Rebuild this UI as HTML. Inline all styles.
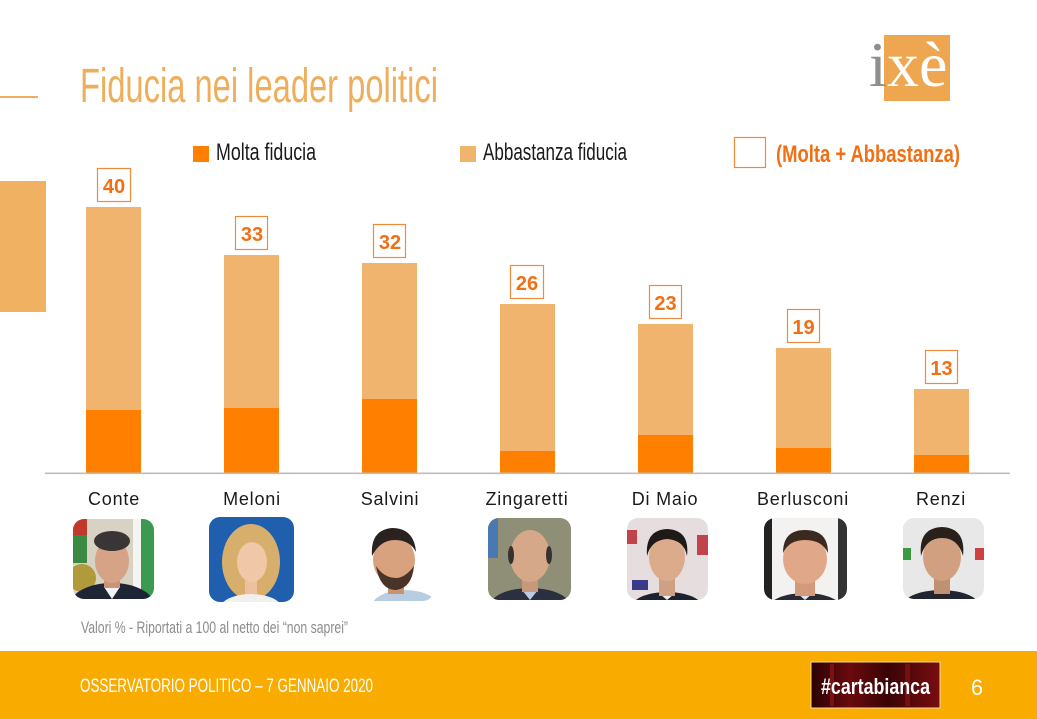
<!DOCTYPE html>
<html>
<head>
<meta charset="utf-8">
<style>
html,body{margin:0;padding:0;background:#fff;}
svg{display:block;}
</style>
</head>
<body>
<svg width="1037" height="719" viewBox="0 0 1037 719" xmlns="http://www.w3.org/2000/svg">
<defs>
  <clipPath id="c1"><rect x="73" y="519" width="81" height="80" rx="11"/></clipPath>
  <clipPath id="c2"><rect x="209" y="517" width="85" height="85" rx="11"/></clipPath>
  <clipPath id="c3"><rect x="352" y="519" width="82" height="82" rx="11"/></clipPath>
  <clipPath id="c4"><rect x="488" y="518" width="83" height="82" rx="11"/></clipPath>
  <clipPath id="c5"><rect x="627" y="518" width="81" height="82" rx="11"/></clipPath>
  <clipPath id="c6"><rect x="764" y="518" width="83" height="82" rx="11"/></clipPath>
  <clipPath id="c7"><rect x="903" y="518" width="81" height="81" rx="11"/></clipPath>
  <linearGradient id="cb" x1="0" y1="0" x2="1" y2="0">
    <stop offset="0" stop-color="#2a0204"/>
    <stop offset="0.3" stop-color="#6a0a0e"/>
    <stop offset="0.6" stop-color="#3a0406"/>
    <stop offset="1" stop-color="#7a0d10"/>
  </linearGradient>
</defs>

<!-- Title -->
<rect x="0" y="96" width="38" height="2" fill="#F0AE5E"/>
<text x="80" y="102" font-family="Liberation Sans, sans-serif" font-size="48" fill="#EFAE5B" textLength="358" lengthAdjust="spacingAndGlyphs">Fiducia nei leader politici</text>

<!-- Left block -->
<rect x="0" y="181" width="46" height="131" fill="#F0B262"/>

<!-- Logo ixè -->
<rect x="884" y="35" width="66" height="66" fill="#EFA650"/>
<text x="869" y="86" font-family="Liberation Serif, serif" font-size="64" fill="#8e8e8e">i</text>
<text x="887" y="86" font-family="Liberation Serif, serif" font-size="64" fill="#ffffff">x</text>
<text x="919" y="86" font-family="Liberation Serif, serif" font-size="64" fill="#ffffff">è</text>

<!-- Legend -->
<rect x="193" y="146" width="16" height="16" fill="#FF7F00"/>
<text x="216" y="160" font-family="Liberation Sans, sans-serif" font-size="24" fill="#1a1a1a" textLength="100" lengthAdjust="spacingAndGlyphs">Molta fiducia</text>
<rect x="460" y="146" width="16" height="16" fill="#F0B46E"/>
<text x="483" y="160" font-family="Liberation Sans, sans-serif" font-size="24" fill="#1a1a1a" textLength="144" lengthAdjust="spacingAndGlyphs">Abbastanza fiducia</text>
<rect x="734.5" y="137.5" width="31" height="30" fill="#fff" stroke="#F08A3C" stroke-width="1.2"/>
<text x="776" y="162" font-family="Liberation Sans, sans-serif" font-size="24" font-weight="bold" fill="#F26F14" textLength="184" lengthAdjust="spacingAndGlyphs">(Molta + Abbastanza)</text>

<!-- Bars -->
<g>
  <rect x="86" y="207" width="55" height="266" fill="#F0B46E"/>
  <rect x="86" y="410" width="55" height="63" fill="#FF7F00"/>
  <rect x="224" y="255" width="55" height="218" fill="#F0B46E"/>
  <rect x="224" y="408" width="55" height="65" fill="#FF7F00"/>
  <rect x="362" y="263" width="55" height="210" fill="#F0B46E"/>
  <rect x="362" y="399" width="55" height="74" fill="#FF7F00"/>
  <rect x="500" y="304" width="55" height="169" fill="#F0B46E"/>
  <rect x="500" y="451" width="55" height="22" fill="#FF7F00"/>
  <rect x="638" y="324" width="55" height="149" fill="#F0B46E"/>
  <rect x="638" y="435" width="55" height="38" fill="#FF7F00"/>
  <rect x="776" y="348" width="55" height="125" fill="#F0B46E"/>
  <rect x="776" y="448" width="55" height="25" fill="#FF7F00"/>
  <rect x="914" y="389" width="55" height="84" fill="#F0B46E"/>
  <rect x="914" y="455" width="55" height="18" fill="#FF7F00"/>
</g>
<rect x="45" y="472.5" width="965" height="1.6" fill="#bdbdbd"/>

<!-- Value boxes -->
<g fill="#fff" stroke="#F08A3C" stroke-width="1.2">
  <rect x="97.5" y="168.5" width="33" height="33"/>
  <rect x="235.5" y="216.5" width="32" height="33"/>
  <rect x="373.5" y="224.5" width="32" height="33"/>
  <rect x="510.5" y="265.5" width="33" height="33"/>
  <rect x="649.5" y="285.5" width="32" height="33"/>
  <rect x="787.5" y="309.5" width="32" height="33"/>
  <rect x="925.5" y="350.5" width="32" height="33"/>
</g>
<g font-family="Liberation Sans, sans-serif" font-size="20" font-weight="bold" fill="#F26F14" text-anchor="middle">
  <text x="114" y="193">40</text>
  <text x="252" y="241">33</text>
  <text x="390" y="249">32</text>
  <text x="527" y="290">26</text>
  <text x="665.5" y="310">23</text>
  <text x="803.5" y="334">19</text>
  <text x="941.5" y="375">13</text>
</g>

<!-- Names -->
<g font-family="Liberation Sans, sans-serif" font-size="18" fill="#1a1a1a" text-anchor="middle" letter-spacing="0.8">
  <text x="114" y="505">Conte</text>
  <text x="252" y="505">Meloni</text>
  <text x="390" y="505">Salvini</text>
  <text x="527" y="505">Zingaretti</text>
  <text x="665" y="505">Di Maio</text>
  <text x="803" y="505">Berlusconi</text>
  <text x="941" y="505">Renzi</text>
</g>

<!-- Photos -->
<!-- Conte -->
<g clip-path="url(#c1)">
  <rect x="73" y="519" width="81" height="80" fill="#d8d2c4"/>
  <rect x="73" y="519" width="14" height="16" fill="#c0392b"/>
  <rect x="73" y="535" width="14" height="28" fill="#3a8a45"/>
  <ellipse cx="82" cy="578" rx="14" ry="14" fill="#b09a3a"/>
  <rect x="133" y="519" width="8" height="80" fill="#f4f4f0"/>
  <rect x="141" y="519" width="13" height="80" fill="#3c9a50"/>
  <ellipse cx="112" cy="605" rx="42" ry="22" fill="#1e2535"/>
  <path d="M104 587 L112 599 L120 587 Z" fill="#f2f2f2"/>
  <rect x="104" y="570" width="16" height="18" fill="#c99478"/>
  <ellipse cx="112" cy="561" rx="17" ry="22" fill="#d6a387"/>
  <ellipse cx="112" cy="541" rx="18" ry="10" fill="#3a3535"/>
</g>
<!-- Meloni -->
<g clip-path="url(#c2)">
  <rect x="209" y="517" width="85" height="85" fill="#1f5fae"/>
  <ellipse cx="251" cy="562" rx="29" ry="38" fill="#d7ae6c"/>
  <ellipse cx="251" cy="610" rx="32" ry="16" fill="#f2f0ee"/>
  <rect x="245" y="578" width="12" height="16" fill="#ecc0a0"/>
  <ellipse cx="252" cy="562" rx="15" ry="20" fill="#f0c8a8"/>
  <path d="M236 552 Q250 532 268 552 Q262 540 251 538 Q240 540 236 552 Z" fill="#d7ae6c"/>
</g>
<!-- Salvini -->
<g clip-path="url(#c3)">
  <rect x="352" y="519" width="82" height="82" fill="#ffffff"/>
  <ellipse cx="405" cy="608" rx="34" ry="18" fill="#b9cde2"/>
  <rect x="388" y="578" width="16" height="16" fill="#c8946f"/>
  <ellipse cx="394" cy="560" rx="21" ry="24" fill="#d8a27e"/>
  <path d="M376 566 Q380 590 396 590 Q412 588 414 566 Q405 578 396 578 Q384 578 376 566 Z" fill="#4a3328"/>
  <path d="M372 556 Q370 530 392 528 Q414 528 416 552 Q410 540 395 540 Q380 540 372 556 Z" fill="#2a2220"/>
</g>
<!-- Zingaretti -->
<g clip-path="url(#c4)">
  <rect x="488" y="518" width="83" height="82" fill="#8e8f76"/>
  <rect x="488" y="518" width="10" height="40" fill="#4a78b0"/>
  <ellipse cx="530" cy="606" rx="40" ry="18" fill="#2b3040"/>
  <path d="M522 590 L530 600 L538 590 Z" fill="#b8cce6"/>
  <rect x="522" y="576" width="16" height="16" fill="#c8987a"/>
  <ellipse cx="530" cy="556" rx="20" ry="26" fill="#d5a88a"/>
  <ellipse cx="511" cy="555" rx="3" ry="9" fill="#3a3030"/>
  <ellipse cx="549" cy="555" rx="3" ry="9" fill="#3a3030"/>
</g>
<!-- Di Maio -->
<g clip-path="url(#c5)">
  <rect x="627" y="518" width="81" height="82" fill="#e6dede"/>
  <rect x="627" y="530" width="10" height="14" fill="#c0444a"/>
  <rect x="697" y="535" width="11" height="20" fill="#c0444a"/>
  <rect x="632" y="580" width="16" height="10" fill="#3a3a8a"/>
  <ellipse cx="667" cy="608" rx="36" ry="16" fill="#1e2230"/>
  <path d="M660 594 L667 600 L674 594 Z" fill="#f2f2f2"/>
  <rect x="659" y="576" width="16" height="20" fill="#cfa081"/>
  <ellipse cx="667" cy="557" rx="18" ry="24" fill="#dbab8b"/>
  <path d="M647 556 Q645 530 667 529 Q690 530 687 556 Q684 540 667 539 Q651 540 647 556 Z" fill="#1e1a18"/>
</g>
<!-- Berlusconi -->
<g clip-path="url(#c6)">
  <rect x="764" y="518" width="83" height="82" fill="#f4f2f0"/>
  <rect x="764" y="518" width="8" height="82" fill="#222"/>
  <rect x="838" y="518" width="9" height="82" fill="#333"/>
  <ellipse cx="805" cy="610" rx="38" ry="17" fill="#2a2a35"/>
  <path d="M797 593 L805 600 L813 593 Z" fill="#e0e6f0"/>
  <rect x="795" y="578" width="20" height="18" fill="#d49a7c"/>
  <ellipse cx="805" cy="559" rx="22" ry="25" fill="#e0a888"/>
  <path d="M783 553 Q783 530 805 530 Q828 530 828 553 Q822 540 805 540 Q789 540 783 553 Z" fill="#3a2a20"/>
</g>
<!-- Renzi -->
<g clip-path="url(#c7)">
  <rect x="903" y="518" width="81" height="81" fill="#e8e8e8"/>
  <rect x="903" y="548" width="8" height="12" fill="#3a9a40"/>
  <rect x="975" y="548" width="9" height="12" fill="#d04040"/>
  <ellipse cx="941" cy="608" rx="40" ry="18" fill="#202530"/>
  <rect x="934" y="576" width="16" height="18" fill="#c09070"/>
  <ellipse cx="942" cy="557" rx="19" ry="24" fill="#d0a080"/>
  <path d="M921 556 Q918 528 942 527 Q966 528 963 556 Q958 538 942 538 Q926 538 921 556 Z" fill="#2a201a"/>
</g>

<!-- Footnote -->
<text x="81" y="633" font-family="Liberation Sans, sans-serif" font-size="17" fill="#8c8c8c" textLength="267" lengthAdjust="spacingAndGlyphs">Valori % - Riportati a 100 al netto dei “non saprei”</text>

<!-- Footer -->
<rect x="0" y="651" width="1037" height="68" fill="#F9AB00"/>
<text x="80" y="692" font-family="Liberation Sans, sans-serif" font-size="19" fill="#ffffff" textLength="293" lengthAdjust="spacingAndGlyphs">OSSERVATORIO POLITICO – 7 GENNAIO 2020</text>
<rect x="811" y="662" width="129" height="46" fill="url(#cb)" stroke="#f6d9a0" stroke-width="1"/>
<rect x="830" y="664" width="4" height="42" fill="#9a1a1c" opacity="0.6"/>
<rect x="905" y="664" width="5" height="42" fill="#9a1a1c" opacity="0.5"/>
<text x="821" y="694" font-family="Liberation Sans, sans-serif" font-size="22" font-weight="bold" fill="#ffffff" textLength="109" lengthAdjust="spacingAndGlyphs">#cartabianca</text>
<text x="971" y="695" font-family="Liberation Sans, sans-serif" font-size="22" fill="#ffffff" textLength="12" lengthAdjust="spacingAndGlyphs">6</text>
</svg>
</body>
</html>
